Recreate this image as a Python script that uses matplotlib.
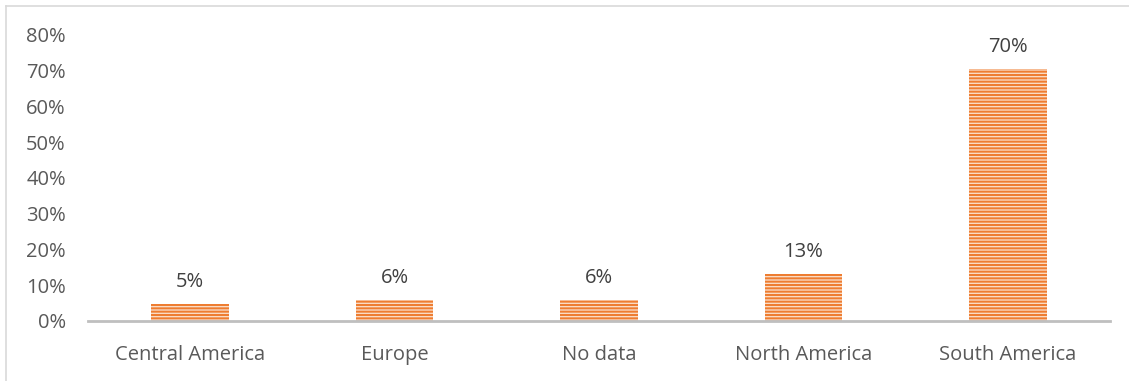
import matplotlib
matplotlib.use("Agg")
import matplotlib.pyplot as plt
from matplotlib.lines import Line2D

categories = ["Central America", "Europe", "No data", "North America", "South America"]
values = [0.048, 0.058, 0.058, 0.132, 0.705]
labels = ["5%", "6%", "6%", "13%", "70%"]
yticks = [0, 0.1, 0.2, 0.3, 0.4, 0.5, 0.6, 0.7, 0.8]
ytick_labels = ["0%", "10%", "20%", "30%", "40%", "50%", "60%", "70%", "80%"]

plt.rcParams['font.family'] = ['Open Sans', 'DejaVu Sans']
plt.rcParams['hatch.linewidth'] = 1.45

W, H = 1129, 381
fig = plt.figure(figsize=(W / 100, H / 100), dpi=100)
ax = fig.add_axes([88 / W, 1 - 321 / H, (1110 - 88) / W, (321 - 35) / H])

x = range(len(categories))
ax.bar(x, values, width=0.38, color='#FBDCC6', edgecolor='#EE7D31', linewidth=0,
       hatch='-----', zorder=2)

for xi, v, lab in zip(x, values, labels):
    ax.annotate(lab, (xi, v), xytext=(0, 8.5), textcoords='offset points',
                ha='center', va='bottom', fontsize=14.5, color='#404040')

ax.set_xlim(-0.5, len(categories) - 0.5)
ax.set_ylim(0, 0.8)
ax.set_yticks(yticks)
ax.set_yticklabels(ytick_labels)
ax.set_xticks(list(x))
ax.set_xticklabels(categories)
ax.tick_params(axis='y', length=0, pad=16, labelsize=14.5, labelcolor='#595959')
ax.tick_params(axis='x', length=0, pad=17, labelsize=14.5, labelcolor='#595959')

for s in ['left', 'right', 'top']:
    ax.spines[s].set_visible(False)
ax.spines['bottom'].set_color('#BFBFBF')
ax.spines['bottom'].set_linewidth(2)
ax.spines['bottom'].set_zorder(3)

# figure border (left and top visible)
fig.add_artist(Line2D([5.5 / W, 5.5 / W], [0, 1 - 5.5 / H], transform=fig.transFigure,
                      color='#D9D9D9', lw=1.2))
fig.add_artist(Line2D([5.5 / W, 1], [1 - 5.5 / H, 1 - 5.5 / H], transform=fig.transFigure,
                      color='#D9D9D9', lw=1.2))

fig.savefig("out.png", dpi=100, facecolor='white')
